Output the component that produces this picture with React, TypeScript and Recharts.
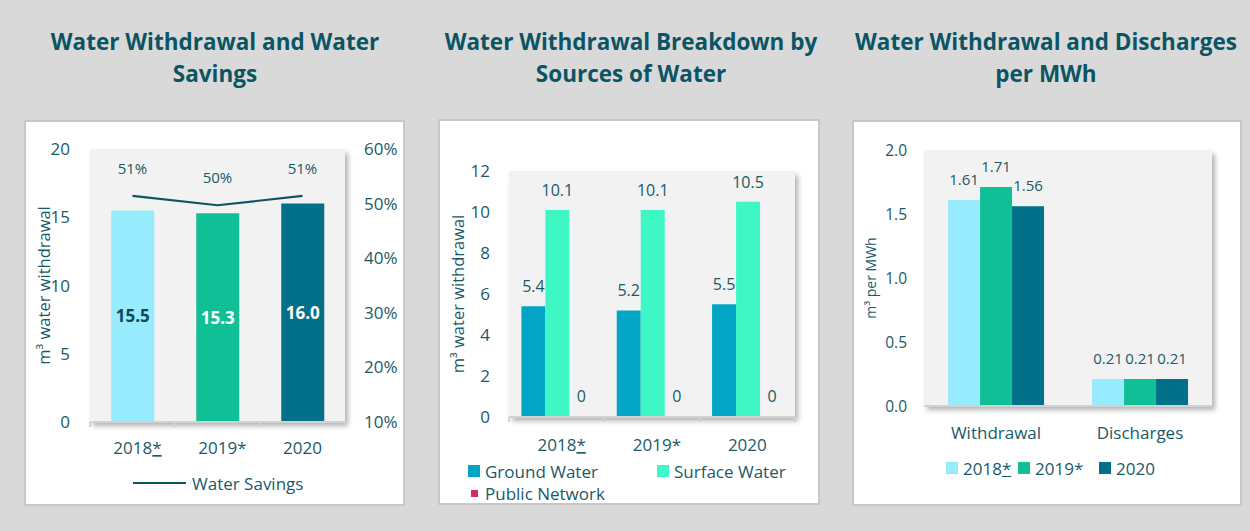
import React from 'react'
import { Bar, BarChart, Cell, ComposedChart, LabelList, Line, Rectangle, XAxis, YAxis } from 'recharts'

// categories shared by the first two panels
const years = ['2018*', '2019*', '2020']
const underlinedStar = ['2018*']

// panel 1: water withdrawal (m3) and water savings (%)
const withdrawal = [15.5, 15.3, 16.0]
const savingsPct = [51.4, 49.7, 51.4]
const withdrawalTicks = [0, 5, 10, 15, 20]
const savingsTicks = [10, 20, 30, 40, 50, 60]

// panel 2: withdrawal by source (m3)
const groundWater = [5.4, 5.2, 5.5]
const surfaceWater = [10.1, 10.1, 10.5]
const publicNetwork = [0, 0, 0]
const sourceTicks = [0, 2, 4, 6, 8, 10, 12]

// panel 3: per MWh
const perMwhCats = ['Withdrawal', 'Discharges']
const perMwh2018 = [1.61, 0.21]
const perMwh2019 = [1.71, 0.21]
const perMwh2020 = [1.56, 0.21]
const perMwhTicks = [0, 0.5, 1, 1.5, 2]

const TEXT = '#1a5a67'
const TITLE = '#0b5464'
const AXIS = '#d2d2d2'
const YEAR_COLORS = ['#96ecfc', '#10bf96', '#03708a']
const INNER_LABEL_COLORS = ['#0c4a5a', '#ffffff', '#ffffff']
const SOURCE_COLORS = { ground: '#03a5c6', surface: '#3ff7c4', public: '#d42a6c' }

const p1Data = years.map((year, i) => ({ year, withdrawal: withdrawal[i], savings: savingsPct[i] }))
const p2Data = years.map((year, i) => ({
  year,
  ground: groundWater[i],
  surface: surfaceWater[i],
  public: publicNetwork[i],
}))
const p3Data = perMwhCats.map((cat, i) => ({
  cat,
  y2018: perMwh2018[i],
  y2019: perMwh2019[i],
  y2020: perMwh2020[i],
}))

type Box = { left: number; top: number; width: number; height: number }
type Plot = { top: number; left: number; right: number; bottom: number }

const P1_BOX: Box = { left: 24, top: 120, width: 381, height: 386 }
const P1_PLOT: Plot = { top: 27, left: 64, right: 58, bottom: 82 }
const P2_BOX: Box = { left: 438, top: 119, width: 382, height: 386 }
const P2_PLOT: Plot = { top: 50, left: 69, right: 23, bottom: 86 }
const P3_BOX: Box = { left: 852, top: 120, width: 390, height: 386 }
const P3_PLOT: Plot = { top: 28, left: 70, right: 28, bottom: 98 }

// half the width of one category band, used for the boundary tick marks
const halfBand = (box: Box, plot: Plot, n: number) => (box.width - 4 - plot.left - plot.right) / n / 2

function PanelFrame({ box, plot, children }: { box: Box; plot: Plot; children: React.ReactNode }) {
  const cw = box.width - 4
  const ch = box.height - 4
  return (
    <div
      style={{
        position: 'absolute',
        left: box.left,
        top: box.top,
        width: box.width,
        height: box.height,
        boxSizing: 'border-box',
        border: '2px solid #c8c8c8',
        background: '#fff',
      }}
    >
      <div
        style={{
          position: 'absolute',
          left: plot.left,
          top: plot.top,
          width: cw - plot.left - plot.right,
          height: ch - plot.top - plot.bottom,
          background: '#f2f2f2',
          boxShadow: '3px 4px 5px rgba(0,0,0,0.3)',
        }}
      />
      <div style={{ position: 'absolute', left: 0, top: 0 }}>{children}</div>
    </div>
  )
}

function Title({ lines, center }: { lines: string[]; center: number }) {
  return (
    <div
      style={{
        position: 'absolute',
        left: center - 220,
        top: 26,
        width: 440,
        textAlign: 'center',
        fontWeight: 700,
        fontSize: 22.5,
        lineHeight: '32px',
        color: TITLE,
      }}
    >
      {lines.map((l) => (
        <div key={l}>{l}</div>
      ))}
    </div>
  )
}

function CatTick(props: any) {
  const { x, y, payload, dy, fontSize, half, index, count } = props
  const v: string = payload.value
  const star = v.endsWith('*')
  const base = star ? v.slice(0, -1) : v
  const axisY = y - 8
  return (
    <g>
      {half ? (
        <>
          <line x1={x - half} x2={x - half} y1={axisY} y2={axisY + 5} stroke={AXIS} strokeWidth={2} />
          {index === count - 1 && (
            <line x1={x + half} x2={x + half} y1={axisY} y2={axisY + 5} stroke={AXIS} strokeWidth={2} />
          )}
        </>
      ) : null}
      <text x={x} y={y} dy={dy} dx={star ? 5 : 0} textAnchor="middle" fill={TEXT} fontSize={fontSize}>
        {base}
        {star && (
          <tspan style={{ textDecoration: underlinedStar.includes(v) ? 'underline' : 'none' }}>*</tspan>
        )}
      </text>
    </g>
  )
}

function rotLabel(text: string, x: number, fontSize: number) {
  return (props: any) => {
    const vb = props.viewBox || {}
    const cy = vb.y + vb.height / 2
    return (
      <text
        x={x}
        y={cy}
        transform={`rotate(-90 ${x} ${cy})`}
        textAnchor="middle"
        dominantBaseline="central"
        fill={TEXT}
        fontSize={fontSize}
      >
        {text}
      </text>
    )
  }
}

function InnerLabel(props: any) {
  const { x, y, width, height, value, index } = props
  return (
    <text
      x={x + width / 2}
      y={y + height / 2}
      dy="0.36em"
      textAnchor="middle"
      fontWeight={700}
      fontSize={17}
      fill={INNER_LABEL_COLORS[index] ?? '#fff'}
    >
      {Number(value).toFixed(1)}
    </text>
  )
}

// bars whose value is 0 keep a (1px) slot so their label is still drawn, but no visible rect
function hideZero(key: string) {
  return (p: any) => (Number(p.payload?.[key]) > 0 ? <Rectangle {...p} /> : <g />)
}

function LegendSwatch({ color, size, label, left, top }: { color: string; size: number; label: string; left: number; top: number }) {
  const star = label.endsWith('*')
  const base = star ? label.slice(0, -1) : label
  return (
    <div style={{ position: 'absolute', left, top: top - 12, height: 24, display: 'flex', alignItems: 'center', whiteSpace: 'nowrap' }}>
      <div style={{ width: 12, marginRight: 5, display: 'flex', justifyContent: 'center' }}>
        <div style={{ width: size, height: size, background: color }} />
      </div>
      <span style={{ fontSize: 17, color: TEXT }}>
        {base}
        {star && <span style={{ textDecoration: underlinedStar.includes(label) ? 'underline' : 'none' }}>*</span>}
      </span>
    </div>
  )
}

function WaterSavingsChart() {
  const cw = P1_BOX.width - 4
  const ch = P1_BOX.height - 4
  const half = halfBand(P1_BOX, P1_PLOT, years.length)
  return (
    <PanelFrame box={P1_BOX} plot={P1_PLOT}>
      <ComposedChart
        width={cw}
        height={ch}
        data={p1Data}
        margin={{ top: P1_PLOT.top, right: 0, bottom: 0, left: 0 }}
        barCategoryGap="25%"
      >
        <XAxis
          dataKey="year"
          height={P1_PLOT.bottom}
          axisLine={{ stroke: AXIS, strokeWidth: 2 }}
          tickLine={false}
          interval={0}
          tick={(p: any) => <CatTick {...p} dy={24} fontSize={17} half={half} count={years.length} />}
        />
        <YAxis
          yAxisId="left"
          width={P1_PLOT.left}
          domain={[0, 20]}
          ticks={withdrawalTicks}
          axisLine={false}
          tickLine={false}
          tickMargin={14}
          tick={{ fill: TEXT, fontSize: 17 }}
          label={rotLabel('m³ water withdrawal', 17, 16.5)}
        />
        <YAxis
          yAxisId="right"
          orientation="right"
          width={P1_PLOT.right}
          domain={[10, 60]}
          ticks={savingsTicks}
          axisLine={false}
          tickLine={false}
          tickMargin={13}
          tick={{ fill: TEXT, fontSize: 17 }}
          tickFormatter={(v: number) => `${v}%`}
        />
        <Bar yAxisId="left" dataKey="withdrawal" isAnimationActive={false}>
          {p1Data.map((d, i) => (
            <Cell key={d.year} fill={YEAR_COLORS[i]} />
          ))}
          <LabelList dataKey="withdrawal" content={<InnerLabel />} />
        </Bar>
        <Line
          yAxisId="right"
          type="linear"
          dataKey="savings"
          stroke="#0d5563"
          strokeWidth={2.2}
          dot={false}
          activeDot={false}
          isAnimationActive={false}
        >
          <LabelList
            dataKey="savings"
            position="top"
            offset={22}
            fill={TEXT}
            fontSize={15}
            formatter={(v: any) => `${Math.round(Number(v))}%`}
          />
        </Line>
      </ComposedChart>
      <div style={{ position: 'absolute', left: 107, top: 361 - 12, height: 24, display: 'flex', alignItems: 'center', whiteSpace: 'nowrap' }}>
        <div style={{ width: 53, height: 2, background: '#0d5563', marginRight: 6 }} />
        <span style={{ fontSize: 17, color: TEXT }}>Water Savings</span>
      </div>
    </PanelFrame>
  )
}

const sourceSeries = [
  { key: 'ground', name: 'Ground Water', color: SOURCE_COLORS.ground },
  { key: 'surface', name: 'Surface Water', color: SOURCE_COLORS.surface },
  { key: 'public', name: 'Public Network', color: SOURCE_COLORS.public },
]
const sourceLegendPos = [
  { left: 28, top: 350, size: 12 },
  { left: 217, top: 350, size: 12 },
  { left: 28, top: 372, size: 7 },
]

function SourcesChart() {
  const cw = P2_BOX.width - 4
  const ch = P2_BOX.height - 4
  const half = halfBand(P2_BOX, P2_PLOT, years.length)
  return (
    <PanelFrame box={P2_BOX} plot={P2_PLOT}>
      <BarChart
        width={cw}
        height={ch}
        data={p2Data}
        margin={{ top: P2_PLOT.top, right: P2_PLOT.right, bottom: 0, left: 0 }}
        barCategoryGap="13%"
        barGap={0}
      >
        <XAxis
          dataKey="year"
          height={P2_PLOT.bottom}
          axisLine={{ stroke: AXIS, strokeWidth: 2 }}
          tickLine={false}
          interval={0}
          tick={(p: any) => <CatTick {...p} dy={26} fontSize={17} half={half} count={years.length} />}
        />
        <YAxis
          width={P2_PLOT.left}
          domain={[0, 12]}
          ticks={sourceTicks}
          axisLine={false}
          tickLine={false}
          tickMargin={13}
          tick={{ fill: TEXT, fontSize: 17 }}
          label={rotLabel('m³ water withdrawal', 17, 16.5)}
        />
        {sourceSeries.map((s) => (
          <Bar
            key={s.key}
            dataKey={s.key}
            fill={s.color}
            minPointSize={1}
            shape={hideZero(s.key)}
            isAnimationActive={false}
          >
            <LabelList
              dataKey={s.key}
              position="top"
              offset={14}
              fill={TEXT}
              fontSize={16}
              formatter={(v: any) => (Number(v) === 0 ? '0' : Number(v).toFixed(1))}
            />
          </Bar>
        ))}
      </BarChart>
      {sourceSeries.map((s, i) => (
        <LegendSwatch key={s.key} color={s.color} label={s.name} {...sourceLegendPos[i]} />
      ))}
    </PanelFrame>
  )
}

const yearSeries = [
  { key: 'y2018', name: years[0], color: YEAR_COLORS[0] },
  { key: 'y2019', name: years[1], color: YEAR_COLORS[1] },
  { key: 'y2020', name: years[2], color: YEAR_COLORS[2] },
]
const yearLegendLeft = [92, 164, 245]

function PerMwhChart() {
  const cw = P3_BOX.width - 4
  const ch = P3_BOX.height - 4
  return (
    <PanelFrame box={P3_BOX} plot={P3_PLOT}>
      <BarChart
        width={cw}
        height={ch}
        data={p3Data}
        margin={{ top: P3_PLOT.top, right: P3_PLOT.right, bottom: 0, left: 0 }}
        barCategoryGap="16.7%"
        barGap={0}
      >
        <XAxis
          dataKey="cat"
          height={P3_PLOT.bottom}
          axisLine={{ stroke: AXIS, strokeWidth: 2 }}
          tickLine={false}
          interval={0}
          tick={(p: any) => <CatTick {...p} dy={25} fontSize={17} />}
        />
        <YAxis
          width={P3_PLOT.left}
          domain={[0, 2]}
          ticks={perMwhTicks}
          axisLine={false}
          tickLine={false}
          tickMargin={11}
          tick={{ fill: TEXT, fontSize: 15.5 }}
          tickFormatter={(v: number) => v.toFixed(1)}
          label={rotLabel('m³ per MWh', 16, 14)}
        />
        {yearSeries.map((s) => (
          <Bar key={s.key} dataKey={s.key} fill={s.color} isAnimationActive={false}>
            <LabelList
              dataKey={s.key}
              position="top"
              offset={15}
              fill={TEXT}
              fontSize={15}
              formatter={(v: any) => Number(v).toFixed(2)}
            />
          </Bar>
        ))}
      </BarChart>
      {yearSeries.map((s, i) => (
        <LegendSwatch key={s.key} color={s.color} label={s.name} size={12} left={yearLegendLeft[i]} top={346} />
      ))}
    </PanelFrame>
  )
}

export default function App() {
  return (
    <div
      style={{
        position: 'absolute',
        left: 0,
        top: 0,
        width: 1250,
        height: 531,
        background: '#d9d9d9',
        fontFamily: '"Open Sans", sans-serif',
        overflow: 'hidden',
      }}
    >
      <Title lines={['Water Withdrawal and Water', 'Savings']} center={215} />
      <Title lines={['Water Withdrawal Breakdown by', 'Sources of Water']} center={631} />
      <Title lines={['Water Withdrawal and Discharges', 'per MWh']} center={1046} />
      <WaterSavingsChart />
      <SourcesChart />
      <PerMwhChart />
    </div>
  )
}
